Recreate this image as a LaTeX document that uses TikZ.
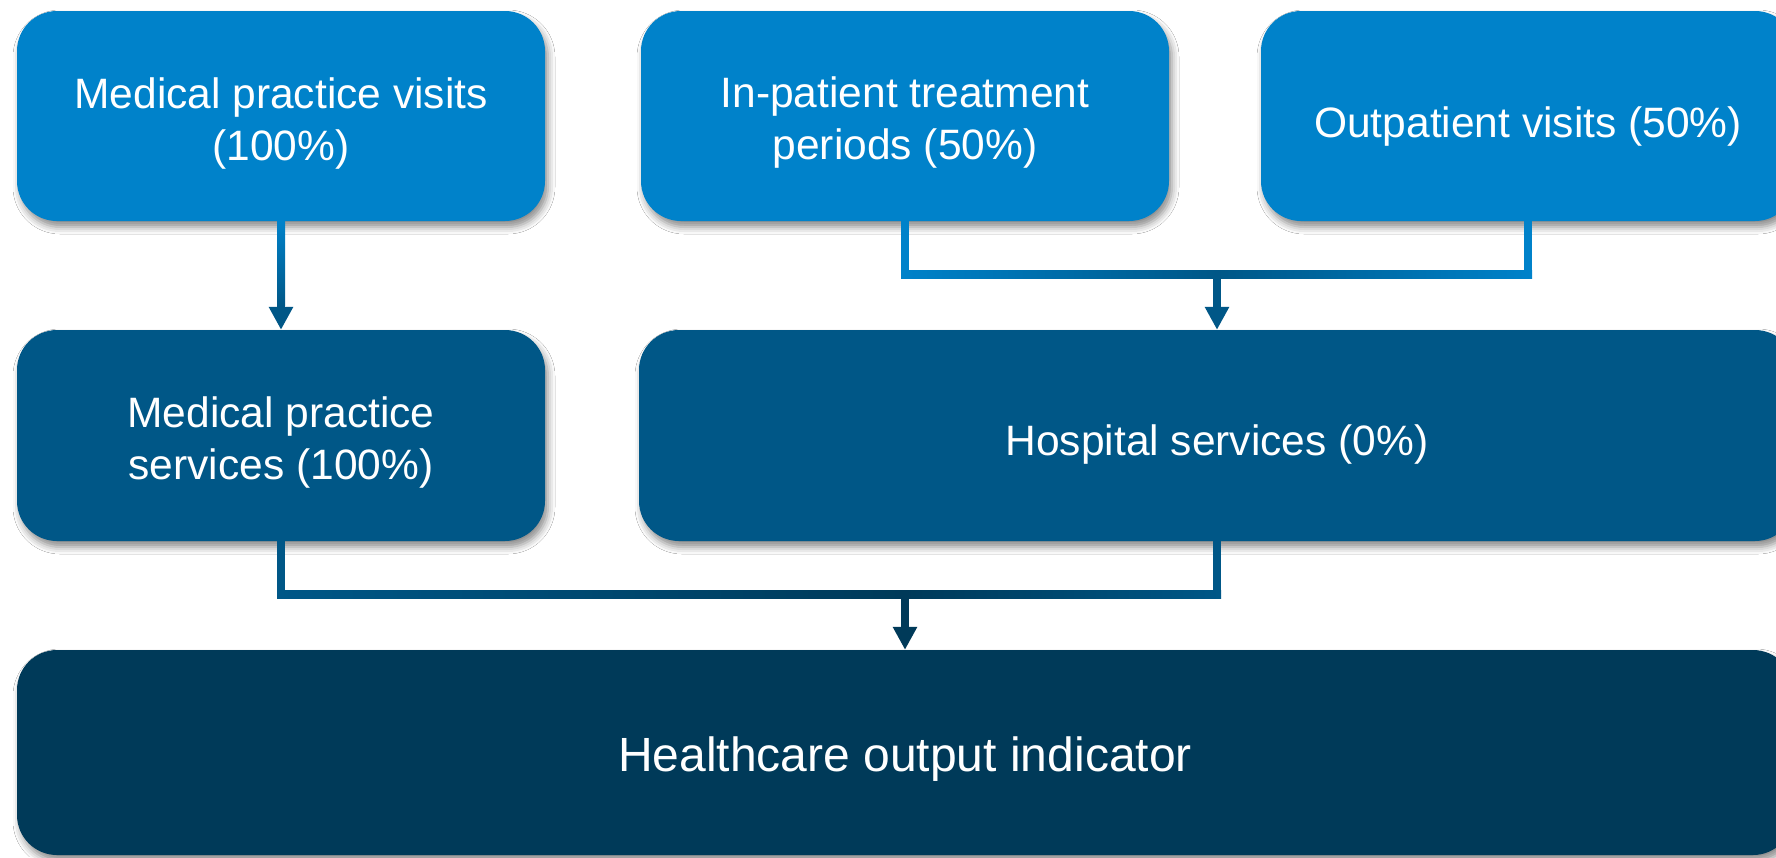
\documentclass[tikz,border=0pt]{standalone}
\usepackage{fontspec}
\setmainfont{Liberation Sans}
\usetikzlibrary{arrows.meta,shadows.blur,calc}
\definecolor{cLight}{RGB}{0,130,202}
\definecolor{cMid}{RGB}{0,87,135}
\definecolor{cDark}{RGB}{0,58,89}
\tikzset{
  box/.style={rounded corners=40pt, inner sep=0pt,
    blur shadow={shadow xshift=3pt, shadow yshift=-6pt, shadow blur radius=7pt, shadow opacity=45}},
  lbox/.style={box, fill=cLight},
  mbox/.style={box, fill=cMid},
  dbox/.style={box, fill=cDark},
  txt/.style={inner sep=0pt, align=center, text=white, font=\fontsize{42.5}{52}\selectfont},
  bigtxt/.style={txt, font=\fontsize{48}{56}\selectfont},
  conn/.style={line width=8pt, line join=miter, line cap=butt},
  arr/.style={conn, -{Triangle[width=23pt,length=23pt]}}
}
\begin{document}
\begin{tikzpicture}[x=1pt,y=-1pt]
\useasboundingbox (0,0) rectangle (1776,857);
\clip (0,0) rectangle (1776,857);
\fill[white] (0,0) rectangle (1776,857);

% boxes
\node[lbox, minimum width=528pt, minimum height=210pt] (b1) at (281,116) {};
\node[lbox, minimum width=528pt, minimum height=210pt] (b2) at (905,116) {};
\node[lbox, minimum width=534pt, minimum height=210pt] (b3) at (1528,116) {};
\node[mbox, minimum width=528pt, minimum height=211pt] (mp) at (281,435.5) {};
\node[mbox, minimum width=1156pt, minimum height=211pt] (hs) at (1217,435.5) {};
\node[dbox, minimum width=1776pt, minimum height=205pt] (out) at (905,752.5) {};

% texts
\node[txt] (b1t) at ($(b1.center)+(0,7)$) {Medical practice visits\\(100\%)};
\node[txt] (b2t) at ($(b2.center)+(0,7)$) {In-patient treatment\\periods (50\%)};
\node[txt] (b3t) at ($(b3.center)+(0,11)$) {Outpatient visits (50\%)};
\node[txt] (mpt) at ($(mp.center)+(0,7)$) {Medical practice\\services (100\%)};
\node[txt] (hst) at ($(hs.center)+(0,9)$) {Hospital services (0\%)};
\node[bigtxt] (outt) at ($(out.center)+(0,7)$) {Healthcare output indicator};

% junctions
\coordinate (j1) at ($(hs.north)+(0,-55)$);
\coordinate (j2) at ($(out.north)+(0,-55)$);

% medical practice visits -> medical practice services
\draw[arr, cMid] (b1.south) -- (mp.north);
\shade[top color=cLight, bottom color=cMid] ($(b1.south)+(-4,0)$) rectangle ($(mp.north)+(4,-24)$);

% hospital inputs -> hospital services
\draw[conn, cLight] (b2.south) |- (j1) -| (b3.south);
\shade[left color=cLight, right color=cMid] ($(b2.south|-j1)+(-4,-4)$) rectangle ($(j1)+(0,4)$);
\shade[left color=cMid, right color=cLight] ($(j1)+(0,-4)$) rectangle ($(b3.south|-j1)+(4,4)$);
\draw[arr, cMid] (j1) -- (hs.north);

% services -> output indicator
\draw[conn, cMid] (mp.south) |- (j2) -| (hs.south);
\shade[left color=cMid, right color=cDark] ($(mp.south|-j2)+(-4,-4)$) rectangle ($(j2)+(0,4)$);
\shade[left color=cDark, right color=cMid] ($(j2)+(0,-4)$) rectangle ($(hs.south|-j2)+(4,4)$);
\draw[arr, cDark] (j2) -- (out.north);
\end{tikzpicture}
\end{document}
